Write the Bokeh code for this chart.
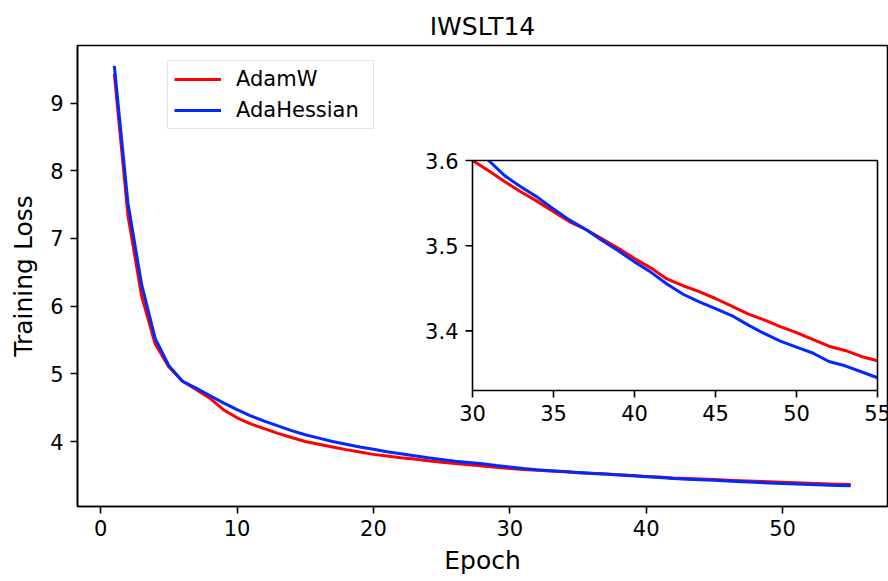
from bokeh.plotting import figure
from bokeh.models import Range1d, FixedTicker, Legend, LegendItem
from bokeh.core.properties import value
from bokeh.embed import file_html
from bokeh.resources import INLINE

# ---------------- data ----------------
epochs = list(range(1, 56))
adamw = [9.43, 7.34, 6.15, 5.44, 5.10, 4.89, 4.77, 4.64, 4.47, 4.35,
         4.26, 4.19, 4.12, 4.06, 4.00, 3.96, 3.92, 3.88, 3.845, 3.81,
         3.785, 3.76, 3.74, 3.715, 3.695, 3.675, 3.655, 3.64, 3.62, 3.600,
         3.588, 3.575, 3.563, 3.552, 3.540, 3.528, 3.519, 3.508, 3.497, 3.485,
         3.474, 3.461, 3.453, 3.446, 3.438, 3.429, 3.420, 3.413, 3.405, 3.398,
         3.390, 3.382, 3.377, 3.370, 3.365]
adahessian = [9.55, 7.52, 6.32, 5.52, 5.12, 4.89, 4.79, 4.68, 4.57, 4.47,
              4.38, 4.30, 4.23, 4.16, 4.10, 4.05, 4.00, 3.96, 3.92, 3.885,
              3.85, 3.82, 3.79, 3.76, 3.735, 3.71, 3.69, 3.67, 3.645, 3.625,
              3.600, 3.582, 3.569, 3.557, 3.543, 3.530, 3.519, 3.506, 3.494, 3.481,
              3.469, 3.455, 3.443, 3.434, 3.426, 3.418, 3.407, 3.397, 3.388, 3.381,
              3.374, 3.364, 3.359, 3.352, 3.345]
x_ticks = [0, 10, 20, 30, 40, 50]
y_ticks = [4, 5, 6, 7, 8, 9]
inset_x_ticks = [30, 35, 40, 45, 50, 55]
inset_y_ticks = [3.4, 3.5, 3.6]
inset_xlim = (30, 55)
inset_ylim = (3.33, 3.6)

# ---------------- layout constants ----------------
W, H = 888, 581
FL, FR, FT, FB = 77, 887, 45, 506       # main frame (px)
IL, IR, IT, IB = 472, 877, 160, 390     # inset box (px)
FONT = "DejaVu Sans"
RED = "#ff0000"
BLUE = "#0028ff"
TICK = 7

p = figure(width=W, height=H,
           x_range=Range1d(-1.7, 57.7), y_range=Range1d(3.04, 9.85),
           output_backend="svg", toolbar_location=None,
           min_border_left=FL, min_border_right=W - FR,
           min_border_top=FT, min_border_bottom=H - FB,
           title="IWSLT14")

p.title.text_font = FONT
p.title.text_font_size = "25px"
p.title.text_font_style = "normal"
p.title.text_color = "black"
p.title.align = "center"
p.title.standoff = 10

p.outline_line_color = "black"
p.outline_line_width = 1.6
p.outline_line_alpha = 1.0
p.xgrid.visible = False
p.ygrid.visible = False
p.background_fill_color = "white"
p.border_fill_color = "white"

p.xaxis.ticker = FixedTicker(ticks=x_ticks)
p.yaxis.ticker = FixedTicker(ticks=y_ticks)
p.xaxis.axis_label = "Epoch"
p.yaxis.axis_label = "Training Loss"
for ax in (p.xaxis[0], p.yaxis[0]):
    ax.axis_line_color = "black"
    ax.axis_line_width = 1.6
    ax.major_tick_out = TICK
    ax.major_tick_in = 0
    ax.major_tick_line_width = 1.6
    ax.major_tick_line_color = "black"
    ax.minor_tick_line_color = None
    ax.major_label_text_font = FONT
    ax.major_label_text_font_size = "21px"
    ax.major_label_text_color = "black"
    ax.axis_label_text_font = FONT
    ax.axis_label_text_font_size = "25px"
    ax.axis_label_text_font_style = "normal"
    ax.axis_label_text_color = "black"
p.xaxis.major_label_standoff = 6
p.xaxis.axis_label_standoff = 7
p.yaxis.major_label_standoff = 7
p.yaxis.axis_label_standoff = 9

# main curves
r_adamw = p.line(epochs, adamw, line_color=RED, line_width=3, line_join="round")
r_ada = p.line(epochs, adahessian, line_color=BLUE, line_width=3, line_join="round")

legend = Legend(items=[LegendItem(label="AdamW", renderers=[r_adamw]),
                       LegendItem(label="AdaHessian", renderers=[r_ada])],
                location=(90, 377))
legend.label_text_font = FONT
legend.label_text_font_size = "21px"
legend.label_text_color = "black"
legend.glyph_width = 47
legend.glyph_height = 24
legend.label_height = 24
legend.label_width = 131
legend.label_standoff = 15
legend.padding = 6
legend.spacing = 7
legend.margin = 0
legend.border_line_color = "#cccccc"
legend.border_line_width = 1
legend.background_fill_color = "white"
legend.background_fill_alpha = 0.8
p.add_layout(legend, "center")

# ---------------- inset (own ranges mapped onto a sub-box of the frame) ----------------
sx = (IR - IL) / (inset_xlim[1] - inset_xlim[0])
sy = (IB - IT) / (inset_ylim[1] - inset_ylim[0])
p.extra_x_ranges = {"ix": Range1d(inset_xlim[0] - (IL - FL) / sx, inset_xlim[1] + (FR - IR) / sx)}
p.extra_y_ranges = {"iy": Range1d(inset_ylim[0] - (FB - IB) / sy, inset_ylim[1] + (IT - FT) / sy)}
kw = dict(x_range_name="ix", y_range_name="iy")

p.quad(left=inset_xlim[0], right=inset_xlim[1], bottom=inset_ylim[0], top=inset_ylim[1],
       fill_color="white", line_color=None, **kw)

ie = [e for e in epochs if e >= inset_xlim[0]]
ia = [v for e, v in zip(epochs, adamw) if e >= inset_xlim[0]]
ih = [v for e, v in zip(epochs, adahessian) if e >= inset_xlim[0]]
p.line(ie, ia, line_color=RED, line_width=3, line_join="round", **kw)
p.line(ie, ih, line_color=BLUE, line_width=3, line_join="round", **kw)

# mask anything drawn above the inset's upper limit
p.quad(left=inset_xlim[0] - 4 / sx, right=inset_xlim[1], bottom=inset_ylim[1],
       top=inset_ylim[1] + 35 / sy, fill_color="white", line_color=None, **kw)

# inset frame
p.quad(left=inset_xlim[0], right=inset_xlim[1], bottom=inset_ylim[0], top=inset_ylim[1],
       fill_color=None, line_color="black", line_width=1.6, **kw)

# inset ticks
p.segment(x0=inset_x_ticks, y0=[inset_ylim[0]] * len(inset_x_ticks),
          x1=inset_x_ticks, y1=[inset_ylim[0] - TICK / sy] * len(inset_x_ticks),
          line_color="black", line_width=1.6, **kw)
p.segment(x0=[inset_xlim[0] - TICK / sx] * len(inset_y_ticks), y0=inset_y_ticks,
          x1=[inset_xlim[0]] * len(inset_y_ticks), y1=inset_y_ticks,
          line_color="black", line_width=1.6, **kw)

# inset tick labels
p.text(x=inset_x_ticks, y=[inset_ylim[0]] * len(inset_x_ticks),
       text=[str(t) for t in inset_x_ticks],
       text_font=value(FONT), text_font_size="21px", text_color="black",
       text_align="center", text_baseline="top", y_offset=2 * TICK, **kw)
p.text(x=[inset_xlim[0]] * len(inset_y_ticks), y=inset_y_ticks,
       text=[f"{t:.1f}" for t in inset_y_ticks],
       text_font=value(FONT), text_font_size="21px", text_color="black",
       text_align="right", text_baseline="middle", x_offset=-2 * TICK, **kw)

open("out.html", "w").write(file_html(p, INLINE))
